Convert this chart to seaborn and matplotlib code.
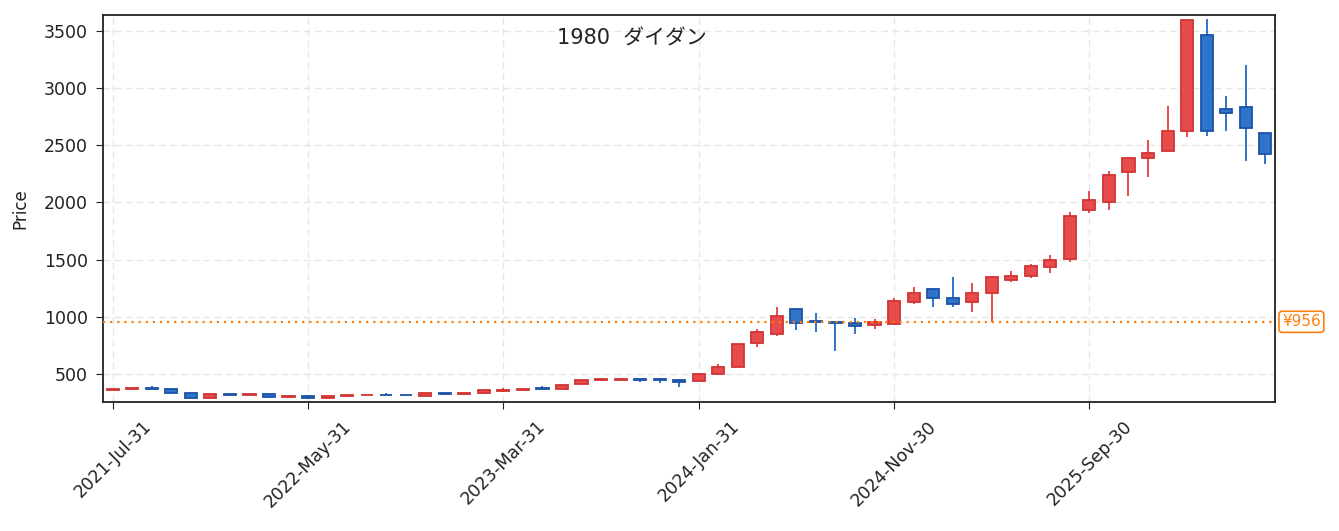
import pandas as pd
import numpy as np
import matplotlib
matplotlib.use("Agg")
import matplotlib.pyplot as plt
import seaborn as sns

# monthly OHLC, 2021-07 .. 2026-06
opens = [360, 370, 380, 370, 335, 290, 325, 318, 325, 300,
         310, 290, 308, 315, 320, 318, 308, 332, 325, 330,
         352, 362, 375, 370, 412, 445, 448, 458, 452, 450,
         440, 500, 565, 768, 850, 1065, 965, 955, 945, 925,
         935, 1128, 1245, 1168, 1128, 1206, 1320, 1358, 1435, 1503,
         1932, 2004, 2267, 2388, 2451, 2622, 3465, 2815, 2838, 2610]
highs = [370, 380, 392, 372, 336, 328, 326, 325, 328, 308,
         314, 310, 318, 320, 334, 320, 331, 333, 333, 360,
         375, 372, 392, 407, 450, 452, 465, 460, 462, 450,
         505, 587, 766, 892, 1086, 1070, 1035, 956, 987, 981,
         1162, 1260, 1250, 1346, 1296, 1352, 1400, 1462, 1541, 1913,
         2100, 2276, 2395, 2547, 2845, 3600, 3605, 2930, 3202, 2611]
lows = [357, 362, 370, 333, 290, 287, 317, 316, 296, 299,
        282, 287, 306, 313, 314, 311, 305, 312, 315, 328,
        340, 360, 367, 368, 411, 435, 446, 430, 420, 390,
        438, 495, 560, 740, 835, 885, 870, 705, 852, 897,
        928, 1116, 1089, 1089, 1045, 955, 1300, 1335, 1387, 1482,
        1912, 1930, 2060, 2226, 2445, 2576, 2582, 2628, 2365, 2340]
closes = [365, 378, 372, 336, 292, 325, 318, 325, 298, 308,
          288, 308, 318, 320, 315, 312, 330, 325, 332, 358,
          360, 370, 368, 405, 448, 452, 455, 450, 446, 432,
          502, 562, 763, 868, 1010, 950, 955, 945, 922, 955,
          1138, 1210, 1168, 1112, 1205, 1350, 1360, 1440, 1500, 1878,
          2025, 2243, 2392, 2435, 2628, 3598, 2622, 2785, 2652, 2425]

dates = pd.date_range("2021-07-31", periods=len(opens), freq="ME")
ref_price = 956
title = "1980  ダイダン"

df = pd.DataFrame({"date": dates, "open": opens, "high": highs,
                   "low": lows, "close": closes})
df["idx"] = np.arange(len(df))
df["up"] = df["close"] >= df["open"]

sns.set_style("ticks")
plt.rcParams["font.family"] = ["DejaVu Sans", "Noto Sans CJK JP"]

fig = plt.figure(figsize=(13.39, 5.31), dpi=100)
ax = fig.add_axes([0.0769, 0.243, 0.8753, 0.7288])

up_face, up_edge = "#e84b4b", "#d13434"
dn_face, dn_edge = "#2e75c9", "#1b52a8"

for up, face, edge in [(True, up_face, up_edge), (False, dn_face, dn_edge)]:
    d = df[df["up"] == up]
    ax.vlines(d["idx"], d["low"], d["high"], color=face, linewidth=1.4, zorder=2)
    ax.bar(d["idx"], (d["close"] - d["open"]).abs(), bottom=d[["open", "close"]].min(axis=1),
           width=0.62, color=face, edgecolor=edge, linewidth=1.3, zorder=3)

ax.axhline(ref_price, color="#ff7f0e", linestyle=(0, (1, 2.2)), linewidth=1.6, zorder=4)
ax.text(1.006, ref_price, f"¥{ref_price}", transform=ax.get_yaxis_transform(),
        va="center", ha="left", color="#ff7f0e", fontsize=11,
        bbox=dict(boxstyle="round,pad=0.2", fc="white", ec="#ff7f0e", lw=1.2))

ax.set_xlim(-0.5, len(df) - 0.5)
ax.set_ylim(255, 3640)
ticks = df["idx"][::10]
ax.set_xticks(ticks)
ax.set_xticklabels(df["date"][::10].dt.strftime("%Y-%b-%d"), rotation=45, fontsize=12.5)
ax.tick_params(axis="x", length=5, pad=6, colors="#222222")
ax.tick_params(axis="y", labelsize=12.5, length=5, pad=6, colors="#222222")
ax.set_yticks([500, 1000, 1500, 2000, 2500, 3000, 3500])
ax.set_ylabel("Price", fontsize=12, labelpad=10, color="#222222")
ax.grid(True, linestyle=(0, (5, 3)), color="#e6e6e6", linewidth=1.0, zorder=0)
ax.set_axisbelow(True)
for s in ax.spines.values():
    s.set_color("#222222")
    s.set_linewidth(1.3)

ax.text(0.451, 0.94, title, transform=ax.transAxes, ha="center", va="center",
        fontsize=15, color="#222222")

fig.savefig("out.png", dpi=100)
